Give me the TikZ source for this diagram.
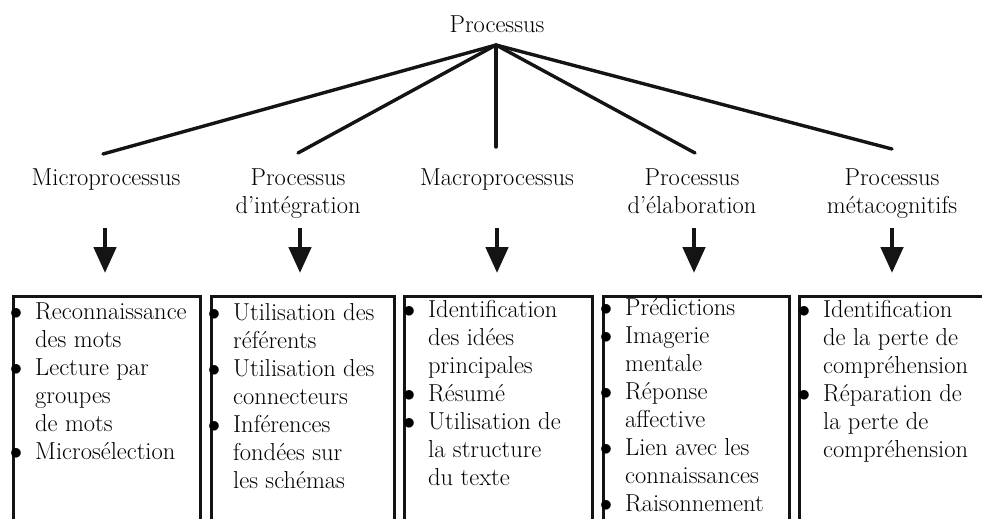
\documentclass[tikz,border=0pt]{standalone}
\usetikzlibrary{arrows.meta}
\newcommand\blt{\llap{$\bullet$\hspace{13pt}}}
\begin{document}
\begin{tikzpicture}[x=1pt,y=-1pt,
  every node/.style={font=\fontsize{24.5}{28}\selectfont, inner sep=0pt, text=black},
  branch/.style={line width=3.4pt, line cap=round, black!92},
  down/.style={line width=4.8pt, black!92, -{Triangle[width=22pt,length=26pt]}},
  frame/.style={draw=black!92, line width=3pt, anchor=north west, minimum height=260pt},
  heading/.style={align=center, anchor=north},
  items/.style={align=left, anchor=north west}
]
\useasboundingbox (0,0) rectangle (982,519);
\clip (0,0) rectangle (982,519);

% root of the tree
\node[anchor=base] (root) at (497,33) {Processus};
\coordinate (apex) at (496,45);

% branch ends
\coordinate (e1) at (103,154);
\coordinate (e2) at (298,153);
\coordinate (e3) at (496,147);
\coordinate (e4) at (695,153);
\coordinate (e5) at (892,149);
\foreach \i in {1,...,5} \draw[branch] (apex) -- (e\i);

% process families
\node[heading] (h1) at (106,169) {Microprocessus};
\node[heading] (h2) at (298,169) {Processus\\d'intégration};
\node[heading] (h3) at (497,169) {Macroprocessus};
\node[heading] (h4) at (692,169) {Processus\\d'élaboration};
\node[heading] (h5) at (892,169) {Processus\\métacognitifs};

% downward arrows
\coordinate (s1) at (105,228); \coordinate (t1) at (105,273);
\coordinate (s2) at (300,228); \coordinate (t2) at (300,273);
\coordinate (s3) at (497,228); \coordinate (t3) at (497,273);
\coordinate (s4) at (694,228); \coordinate (t4) at (694,273);
\coordinate (s5) at (892,228); \coordinate (t5) at (892,273);
\foreach \i in {1,...,5} \draw[down] (s\i) -- (t\i);

% frames
\node[frame, minimum width=187pt] (b1) at (12,295) {};
\node[frame, minimum width=183pt] (b2) at (210,295) {};
\node[frame, minimum width=188pt] (b3) at (403,295) {};
\node[frame, minimum width=186pt] (b4) at (602,295) {};
\node[frame, minimum width=200pt] (b5) at (798,295) {};

% contents
\node[items] (l1) at (35,303) {\blt Reconnaissance\\des mots\\\blt Lecture par\\groupes\\de mots\\\blt Microsélection};
\node[items] (l2) at (233,303) {\blt Utilisation des\\référents\\\blt Utilisation des\\connecteurs\\\blt Inférences\\fondées sur\\les schémas};
\node[items] (l3) at (428,300) {\blt Identification\\des idées\\principales\\\blt Résumé\\\blt Utilisation de\\la structure\\du texte};
\node[items] (l4) at (625,298) {\blt Prédictions\\\blt Imagerie\\mentale\\\blt Réponse\\affective\\\blt Lien avec les\\connaissances\\\blt Raisonnement};
\node[items] (l5) at (823,300) {\blt Identification\\de la perte de\\compréhension\\\blt Réparation de\\la perte de\\compréhension};
\end{tikzpicture}
\end{document}
